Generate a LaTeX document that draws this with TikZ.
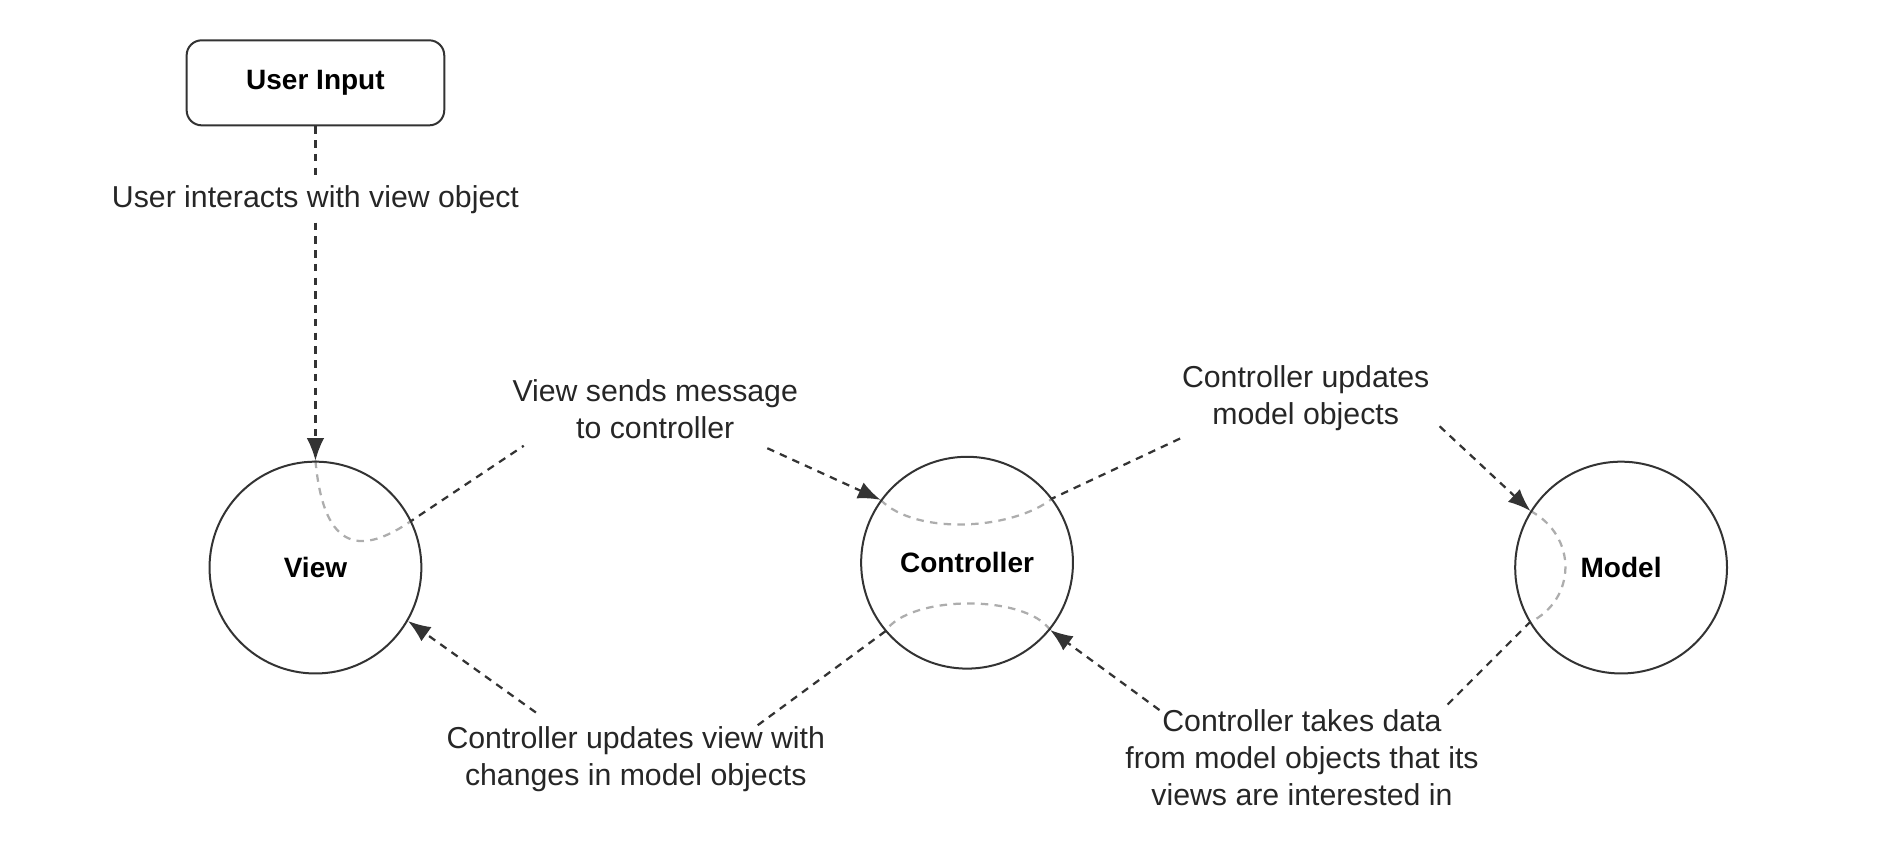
\documentclass[tikz,border=0pt]{standalone}
\usepackage{fontspec}
\setmainfont{Liberation Sans}
\usetikzlibrary{arrows.meta,calc,positioning}
\pgfdeclarelayer{bg}
\pgfsetlayers{bg,main}

\tikzset{
  inbox/.style={draw=black!80, line width=0.8pt, rounded corners=6pt,
    minimum width=103pt, minimum height=34pt,
    font=\fontsize{11.2}{13}\selectfont\bfseries},
  mvc/.style={circle, draw=black!80, line width=0.8pt, minimum size=84.7pt,
    fill=white, fill opacity=0.6, text opacity=1,
    font=\fontsize{11.2}{13}\selectfont\bfseries},
  msg/.style={align=center, text=black!85, inner sep=2pt,
    font=\fontsize{12.1}{14.8}\selectfont},
  link/.style={draw=black!80, line width=0.9pt, dash pattern=on 3pt off 2.5pt},
  arr/.style={-{Latex[length=9pt,width=7pt]}}
}

\begin{document}
\begin{tikzpicture}[x=0.487pt,y=-0.487pt]
    \useasboundingbox (0,0) rectangle (1560,691);

    % boxes and circles
    \node[inbox] (input) at (259,68) {User Input};
    \node[mvc] (view) at (259,466) {View};
    \node[mvc] (ctrl) at (794,462) {Controller};
    \node[mvc] (model) at (1331,466) {Model};

    % labels
    \node[msg] (lblA) at (538,336) {View sends message\\to controller};
    \node[msg] (lblB) at (1072,327) {Controller updates\\model objects};
    \node[msg] (lblC) at (1069,622) {Controller takes data\\from model objects that its\\views are interested in};
    \node[msg] (lblD) at (522,623) {Controller updates view with\\changes in model objects};

    % free ends next to the labels
    \coordinate (a1) at (430,366);
    \coordinate (a2) at (630,368);
    \coordinate (b1) at (969,360);
    \coordinate (b2) at (1182,350);
    \coordinate (c1) at (1185,582);
    \coordinate (c2) at (952,583);
    \coordinate (d1) at (620,597);
    \coordinate (d2) at (440,585);

    % connectors
    \begin{pgfonlayer}{bg}
    \draw[link,arr] (input) -- node[msg,fill=white,pos=.22] (lblU)
        {User interacts with view object} (view.north);

    \draw[link] (view.north) .. controls (266,455) and (298,455) .. (view.26) -- (a1);
    \draw[link,arr] (a2) -- (ctrl.144);

    \draw[link] (ctrl.144) .. controls (752,440) and (832,435) .. (ctrl.37) -- (b1);
    \draw[link,arr] (b2) -- (model.148);

    \draw[link] (model.148) .. controls (1295,440) and (1295,492) .. (model.211) -- (c1);
    \draw[link,arr] (c2) -- (ctrl.-39);

    \draw[link] (ctrl.-39) .. controls (842,488) and (747,488) .. (ctrl.220) -- (d1);
    \draw[link,arr] (d2) -- (view.-30);
    \end{pgfonlayer}
\end{tikzpicture}
\end{document}
